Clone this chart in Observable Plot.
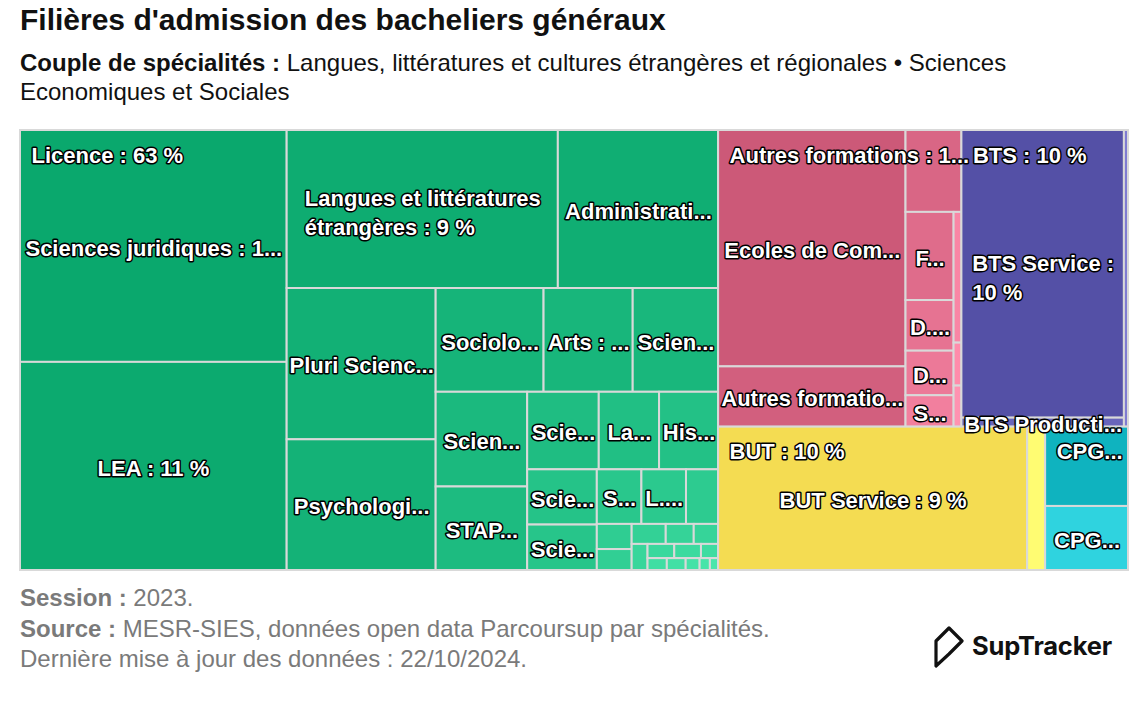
<!DOCTYPE html>
<html><head><meta charset="utf-8">
<script src="https://cdn.jsdelivr.net/npm/d3@7"></script>
<script src="https://cdn.jsdelivr.net/npm/@observablehq/plot@0.6"></script>
<style>
html,body{margin:0;padding:0;background:#fff;}
body{width:1148px;height:728px;position:relative;overflow:hidden;font-family:"Liberation Sans",Arial,Helvetica,sans-serif;}
#title{position:absolute;left:20px;top:2px;font-size:30px;font-weight:bold;line-height:36px;color:#111;white-space:nowrap;}
.sub{position:absolute;left:20px;font-size:24px;line-height:29px;color:#111;white-space:nowrap;}
#chart{position:absolute;left:0;top:120px;}
.cap{position:absolute;left:20px;font-size:24px;line-height:30px;color:#7a7a7a;white-space:nowrap;}
#logo{position:absolute;left:930px;top:622px;display:flex;align-items:center;}
#logo span{font-family:Inter,"Noto Sans",sans-serif;font-weight:700;font-size:25.5px;color:#111;margin-left:8px;letter-spacing:-0.2px;}
</style></head><body>
<div id="title">Filières d'admission des bacheliers généraux</div>
<div class="sub" style="top:48px"><b>Couple de spécialités :</b><span> Langues, littératures et cultures étrangères et régionales • Sciences</span></div>
<div class="sub" style="top:77px">Economiques et Sociales</div>
<div id="chart"></div>
<div class="cap" style="top:583px"><b>Session :</b><span> 2023.</span></div>
<div class="cap" style="top:614px"><b>Source :</b><span> MESR-SIES, données open data Parcoursup par spécialités.</span></div>
<div class="cap" style="top:644px">Dernière mise à jour des données : 22/10/2024.</div>
<div id="logo"><svg width="34" height="46" viewBox="0 0 34 46"><path d="M6,44 V19 L19,6 L32,19 L19,32 Z" fill="none" stroke="#111" stroke-width="3.2" stroke-linejoin="round" stroke-linecap="round"/></svg><span>SupTracker</span></div>
<script>
// ---- Data (share of admitted bacheliers, % of total) ----
const groupNames = ["Licence", "Autres formations", "BTS", "BUT", "CPGE"];
const groupColors = ["#0aa86d", "#cc5978", "#5450a6", "#f4dc52", "#0fb3bf"];

const licenceNames = ["Sciences juridiques", "LEA", "Langues et littératures étrangères",
  "Administration économique et sociale", "Pluri Sciences humaines et sociales", "Psychologie",
  "Sociologie", "Arts", "Sciences de l'éducation", "Sciences économiques", "STAPS",
  "Sciences politiques", "Langues et littératures françaises", "Histoire",
  "Sciences de l'information et de la communication", "Sciences de gestion",
  "Sciences du langage", "L.AS", "Géographie", "Mathématiques", "Musicologie", "Philosophie",
  "Cinéma", "Physique", "Archéologie", "Chimie", "Gestion", "Sciences de la vie",
  "Informatique", "Ethnologie", "Théologie", "MIASHS", "Sciences de la Terre"];
const licenceValues = [12.7, 11.4, 8.8, 5.2, 4.63, 4.0, 2.3, 1.9, 1.82, 1.78, 1.57, 1.14, 0.96, 0.94,
  0.79, 0.65, 0.5, 0.5, 0.36, 0.18, 0.15, 0.14, 0.115, 0.10, 0.085, 0.078, 0.078, 0.05, 0.047,
  0.046, 0.034, 0.025, 0.02];

const autresNames = ["Ecoles de Commerce", "Autres formations", "Ecoles d'Ingénieurs",
  "Formations professionnelles", "D.N. MADE", "DEUST", "Sciences Po / IEP", "IFSI", "DCG",
  "Ecoles d'architecture"];
const autresValues = [9.1, 2.32, 0.94, 0.87, 0.5, 0.44, 0.31, 0.21, 0.069, 0.066];

const btsNames = ["BTS Service", "BTS Production", "BTS Agricole"];
const btsValues = [9.6, 0.3, 0.25];

const butNames = ["BUT Service", "BUT Production"];
const butValues = [9.1, 0.53];

const cpgeNames = ["CPGE Economique", "CPGE Littéraire"];
const cpgeValues = [1.35, 1.09];

const wrapLabels = ["Langues et littératures étrangères", "BTS Service"];

// ---- Hierarchy ----
const leafNames = [licenceNames, autresNames, btsNames, butNames, cpgeNames];
const leafValues = [licenceValues, autresValues, btsValues, butValues, cpgeValues];
const tree = {name: "root", children: groupNames.map((g, i) => ({
  name: g, gi: i,
  children: leafNames[i].map((n, j) => ({name: n, value: leafValues[i][j], gi: i}))
}))};

const W = 1108, H = 440;

// Highcharts-style "squarified" (low aspect ratio) tiling
function hcTile(parent, x0, y0, x1, y1) {
  const nodes = parent.children;
  const PW = x1 - x0, PH = y1 - y0, total = parent.value;
  const plot = {x: x0, y: y0};
  const out = [];
  const g = {height: PH, width: PW, direction: 0, total: 0, nW: 0, lW: 0, nH: 0, lH: 0, elArr: [],
    lP: {total: 0, lH: 0, nH: 0, lW: 0, nW: 0, nR: 0, lR: 0}};
  const ar = (w, h) => Math.max(w / h, h / w);
  function add(el) {
    g.lP.total = g.elArr[g.elArr.length - 1];
    g.total += el;
    if (g.direction === 0) {
      g.lW = g.nW;
      g.lP.lH = g.lP.total / g.lW;
      g.lP.lR = ar(g.lW, g.lP.lH);
      g.nW = g.total / g.height;
      g.lP.nH = g.lP.total / g.nW;
      g.lP.nR = ar(g.nW, g.lP.nH);
    } else {
      g.lH = g.nH;
      g.lP.lW = g.lP.total / g.lH;
      g.lP.lR = ar(g.lP.lW, g.lH);
      g.nH = g.total / g.width;
      g.lP.nW = g.lP.total / g.nH;
      g.lP.nR = ar(g.lP.nW, g.nH);
    }
    g.elArr.push(el);
  }
  function calc(last) {
    let gW = g.lW, gH = g.lH, keep;
    if (last) { gW = g.nW; gH = g.nH; } else keep = g.elArr[g.elArr.length - 1];
    const end = g.elArr.length - 1;
    g.elArr.forEach((p, i) => {
      if (last || i < end) {
        let pW, pH;
        if (g.direction === 0) { pW = gW; pH = p / pW; } else { pH = gH; pW = p / pH; }
        out.push({x: plot.x, y: plot.y, w: pW, h: pH});
        if (g.direction === 0) plot.y += pH; else plot.x += pW;
      }
    });
    g.nW = 0; g.lW = 0; g.elArr = []; g.total = 0;
    if (g.direction === 0) g.width -= gW; else g.height -= gH;
    plot.y = y0 + (PH - g.height);
    plot.x = x0 + (PW - g.width);
    g.direction = 1 - g.direction;
    if (!last) add(keep);
  }
  nodes.forEach((c, i) => {
    add(PW * PH * (c.value / total));
    if (g.lP.nR > g.lP.lR) calc(false);
    if (i === nodes.length - 1) calc(true);
  });
  nodes.forEach((c, i) => { const r = out[i]; c.x0 = r.x; c.y0 = r.y; c.x1 = r.x + r.w; c.y1 = r.y + r.h; });
}

const root = d3.hierarchy(tree).sum(d => d.value || 0).sort((a, b) => b.value - a.value);
d3.treemap().size([W, H]).paddingInner(0).tile(hcTile)(root);
const TOTAL = root.value;

function brighten(c, amt) {
  const r = d3.rgb(c), k = Math.round(255 * amt);
  return d3.rgb(Math.min(255, r.r + k), Math.min(255, r.g + k), Math.min(255, r.b + k)).formatHex();
}
const leaves = root.leaves().map(d => {
  const sib = d.parent.children;
  const idx = sib.indexOf(d);
  return {name: d.data.name, value: d.value, x0: d.x0, x1: d.x1, y0: d.y0, y1: d.y1,
    color: brighten(groupColors[d.data.gi], 0.25 * idx / sib.length)};
});

// ---- Labels ----
const FONT = '"Liberation Sans", Arial, Helvetica, sans-serif';
const FS = 22, LH = 29;
const ctx = document.createElement("canvas").getContext("2d");
ctx.font = `bold ${FS}px ${FONT}`;
const tw = s => ctx.measureText(s).width;
const pct = v => Math.round(v / TOTAL * 100);
function ellipsize(s, avail) {
  if (tw(s) <= avail) return s;
  for (let k = s.length - 1; k >= 1; k--) { const t = s.slice(0, k) + "..."; if (tw(t) <= avail) return t; }
  return null;
}
function wrap(s, avail) {
  const words = s.split(" "), lines = [];
  let cur = "";
  for (const w of words) { const t = cur ? cur + " " + w : w; if (!cur || tw(t) <= avail) cur = t; else { lines.push(cur); cur = w; } }
  lines.push(cur);
  return lines;
}
const overlap = (a, b) => a.x0 < b.x1 && b.x0 < a.x1 && a.y0 < b.y1 && b.y0 < a.y1;

const groupLabels = [];
for (const gnode of root.children) {
  const avail = gnode.x1 - gnode.x0 - 3;
  const t = ellipsize(`${gnode.data.name} : ${pct(gnode.value)} %`, avail);
  if (!t) continue;
  const x = gnode.x0 + 11, y = gnode.y0 + 23;
  groupLabels.push({x, y, text: t, box: {x0: x, x1: x + tw(t), y0: y - FS / 2, y1: y + FS / 2}});
}
const leafLabels = [];
for (const d of leaves) {
  const w = d.x1 - d.x0, avail = w - 4;
  const full = `${d.name} : ${pct(d.value)} %`;
  let lines;
  if (tw(full) <= avail) lines = [full];
  else if (wrapLabels.includes(d.name)) lines = wrap(full, avail);
  else { const t = ellipsize(full, avail); if (!t) continue; lines = [t]; }
  const bw = d3.max(lines, tw);
  const cx = (d.x0 + d.x1) / 2, cy = (d.y0 + d.y1) / 2;
  const bh = lines.length === 1 ? FS : lines.length * LH;
  const box = {x0: cx - bw / 2, x1: cx + bw / 2, y0: cy - bh / 2, y1: cy + bh / 2};
  if (groupLabels.some(g => overlap(g.box, box))) continue;
  if (leafLabels.some(l => overlap(l.box, box))) continue;
  leafLabels.push({x: cx - bw / 2, y: cy + (lines.length > 1 ? 2 : 0), text: lines.join("\n"), box});
}

const textStyle = {textAnchor: "start", lineAnchor: "middle", lineHeight: LH / FS, fontSize: FS,
  fontWeight: "bold", fontFamily: FONT, fill: "white", stroke: "black", strokeWidth: 3, strokeLinejoin: "round"};

const chart = Plot.plot({
  width: 1148, height: 460,
  marginLeft: 20, marginRight: 20, marginTop: 10, marginBottom: 10,
  x: {domain: [0, W], range: [20, 1128], axis: null},
  y: {domain: [0, H], range: [10, 450], axis: null},
  marks: [
    Plot.rect(leaves, {x1: "x0", x2: "x1", y1: "y0", y2: "y1", fill: "color", stroke: "#d9d9d9", strokeWidth: 2}),
    Plot.text(leafLabels, {x: "x", y: "y", text: "text", ...textStyle}),
    Plot.text(groupLabels, {x: "x", y: "y", text: "text", ...textStyle})
  ]
});
document.getElementById("chart").appendChild(chart);
</script>
</body></html>
